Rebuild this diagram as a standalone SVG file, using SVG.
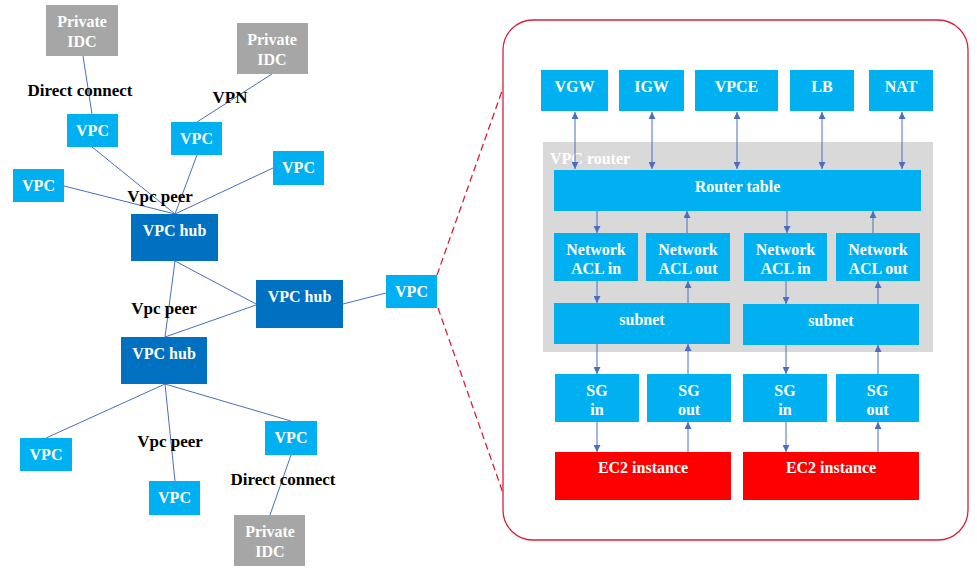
<svg xmlns="http://www.w3.org/2000/svg" width="977" height="571" viewBox="0 0 977 571">
<style>
text{font-family:"Liberation Serif","Times New Roman",serif;font-weight:bold;font-size:16px;text-anchor:middle}
.w{fill:#fff}
.lbl{fill:#000;font-size:17px}
.vpc{fill:#00b0f0}
.hub{fill:#0070c0}
.idc{fill:#a6a6a6}
.ec2{fill:#ff0000}
.ln{stroke:#4a6fbe;stroke-width:1;fill:none}
.ar{stroke:#4a6fbe;stroke-width:1;fill:none;marker-end:url(#ah)}
.ar2{stroke:#4a6fbe;stroke-width:1;fill:none;marker-end:url(#ah);marker-start:url(#ah)}
.red{stroke:#d8203a;stroke-width:1.3;fill:none}
</style>
<defs>
<marker id="ah" viewBox="0 0 10 10" refX="10" refY="5" markerWidth="7" markerHeight="7" markerUnits="userSpaceOnUse" orient="auto-start-reverse">
<path d="M0,0 L10,5 L0,10 z" fill="#4a6fbe"/>
</marker>
</defs>
<rect width="977" height="571" fill="#fff"/>

<g id="vpc-detail"><rect class="red" x="503" y="20" width="465" height="520" rx="30" ry="30"/></g>

<g id="vpc-router"><rect fill="#d9d9d9" x="543" y="142" width="390" height="210"/><text class="w" x="550" y="164" style="text-anchor:start">VPC router</text></g>

<g id="connectors">
<line class="ln" x1="83" y1="56" x2="92" y2="114"/>
<line class="ln" x1="272" y1="74" x2="197" y2="122"/>
<line class="ln" x1="92" y1="147" x2="175" y2="214"/>
<line class="ln" x1="197" y1="155" x2="175" y2="214"/>
<line class="ln" x1="273" y1="168" x2="175" y2="214"/>
<line class="ln" x1="64" y1="186" x2="175" y2="214"/>
<line class="ln" x1="175" y1="261" x2="165" y2="337"/>
<line class="ln" x1="175" y1="261" x2="256" y2="304"/>
<line class="ln" x1="256" y1="305" x2="165" y2="337"/>
<line class="ln" x1="343" y1="304" x2="386" y2="293"/>
<line class="ln" x1="165" y1="384" x2="46" y2="438"/>
<line class="ln" x1="165" y1="384" x2="175" y2="481"/>
<line class="ln" x1="165" y1="384" x2="291" y2="421"/>
<line class="ln" x1="291" y1="455" x2="270" y2="515"/>
<line class="red" stroke-dasharray="7,4" x1="437" y1="275" x2="502" y2="91"/>
<line class="red" stroke-dasharray="7,4" x1="438" y1="308" x2="503" y2="493"/>
<line class="ar2" x1="575" y1="112" x2="575" y2="169"/>
<line class="ar2" x1="652" y1="112" x2="652" y2="169"/>
<line class="ar2" x1="737" y1="112" x2="737" y2="169"/>
<line class="ar2" x1="822" y1="112" x2="822" y2="169"/>
<line class="ar2" x1="902" y1="112" x2="902" y2="169"/>
<line class="ar" x1="597" y1="211" x2="597" y2="233"/>
<line class="ar" x1="687" y1="233" x2="687" y2="211"/>
<line class="ar" x1="787" y1="211" x2="787" y2="233"/>
<line class="ar" x1="873" y1="233" x2="873" y2="211"/>
<line class="ar" x1="597" y1="281" x2="597" y2="303"/>
<line class="ar" x1="688" y1="303" x2="688" y2="281"/>
<line class="ar" x1="786" y1="281" x2="786" y2="304"/>
<line class="ar" x1="878" y1="304" x2="878" y2="281"/>
<line class="ar" x1="597" y1="344" x2="597" y2="374"/>
<line class="ar" x1="688" y1="374" x2="688" y2="344"/>
<line class="ar" x1="786" y1="345" x2="786" y2="374"/>
<line class="ar" x1="878" y1="374" x2="878" y2="345"/>
<line class="ar" x1="597" y1="422" x2="597" y2="452"/>
<line class="ar" x1="688" y1="452" x2="688" y2="422"/>
<line class="ar" x1="786" y1="422" x2="786" y2="452"/>
<line class="ar" x1="878" y1="452" x2="878" y2="422"/>
</g>

<g id="labels">
<text class="lbl" x="80" y="96">Direct connect</text>
<text class="lbl" x="230" y="103">VPN</text>
<text class="lbl" x="160" y="202">Vpc peer</text>
<text class="lbl" x="164" y="314">Vpc peer</text>
<text class="lbl" x="170" y="447">Vpc peer</text>
<text class="lbl" x="283" y="485">Direct connect</text>
</g>

<g id="idc1"><rect class="idc" x="46" y="5" width="72" height="51"/><text class="w" x="82" y="27">Private</text><text class="w" x="82" y="47">IDC</text></g>
<g id="idc2"><rect class="idc" x="237" y="23" width="71" height="51"/><text class="w" x="272" y="45">Private</text><text class="w" x="272" y="65">IDC</text></g>
<g id="idc3"><rect class="idc" x="234" y="515" width="71" height="51"/><text class="w" x="270" y="537">Private</text><text class="w" x="270" y="557">IDC</text></g>

<g id="vpc1"><rect class="vpc" x="67" y="114" width="51" height="33"/><text class="w" x="92.5" y="136">VPC</text></g>
<g id="vpc2"><rect class="vpc" x="171" y="122" width="51" height="33"/><text class="w" x="196.5" y="144">VPC</text></g>
<g id="vpc3"><rect class="vpc" x="273" y="151" width="51" height="34"/><text class="w" x="298.5" y="173">VPC</text></g>
<g id="vpc4"><rect class="vpc" x="13" y="169" width="51" height="33"/><text class="w" x="38.5" y="191">VPC</text></g>
<g id="vpc5"><rect class="vpc" x="386" y="275" width="51" height="33"/><text class="w" x="411.5" y="297">VPC</text></g>
<g id="vpc6"><rect class="vpc" x="20" y="438" width="52" height="33"/><text class="w" x="46" y="460">VPC</text></g>
<g id="vpc7"><rect class="vpc" x="149" y="481" width="51" height="34"/><text class="w" x="174.5" y="503">VPC</text></g>
<g id="vpc8"><rect class="vpc" x="265" y="421" width="52" height="34"/><text class="w" x="291" y="443">VPC</text></g>

<g id="hub1"><rect class="hub" x="131" y="214" width="87" height="47"/><text class="w" x="174.5" y="236">VPC hub</text></g>
<g id="hub2"><rect class="hub" x="256" y="280" width="87" height="48"/><text class="w" x="299.5" y="302">VPC hub</text></g>
<g id="hub3"><rect class="hub" x="121" y="337" width="86" height="47"/><text class="w" x="164" y="359">VPC hub</text></g>

<g id="vgw"><rect class="vpc" x="541" y="70" width="67" height="41"/><text class="w" x="574.5" y="92">VGW</text></g>
<g id="igw"><rect class="vpc" x="619" y="70" width="65" height="41"/><text class="w" x="651.5" y="92">IGW</text></g>
<g id="vpce"><rect class="vpc" x="695" y="70" width="83" height="41"/><text class="w" x="736.5" y="92">VPCE</text></g>
<g id="lb"><rect class="vpc" x="790" y="70" width="64" height="41"/><text class="w" x="822" y="92">LB</text></g>
<g id="nat"><rect class="vpc" x="869" y="70" width="64" height="41"/><text class="w" x="901" y="92">NAT</text></g>

<g id="router-table"><rect class="vpc" x="554" y="170" width="367" height="41"/><text class="w" x="737.5" y="192">Router table</text></g>

<g id="acl-in-1"><rect class="vpc" x="554" y="233" width="84" height="48"/><text class="w" x="596" y="255">Network</text><text class="w" x="596" y="274">ACL in</text></g>
<g id="acl-out-1"><rect class="vpc" x="646" y="233" width="84" height="48"/><text class="w" x="688" y="255">Network</text><text class="w" x="688" y="274">ACL out</text></g>
<g id="acl-in-2"><rect class="vpc" x="744" y="233" width="83" height="48"/><text class="w" x="785.5" y="255">Network</text><text class="w" x="785.5" y="274">ACL in</text></g>
<g id="acl-out-2"><rect class="vpc" x="836" y="233" width="84" height="48"/><text class="w" x="878" y="255">Network</text><text class="w" x="878" y="274">ACL out</text></g>

<g id="subnet-1"><rect class="vpc" x="554" y="303" width="176" height="41"/><text class="w" x="642" y="325">subnet</text></g>
<g id="subnet-2"><rect class="vpc" x="743" y="304" width="176" height="41"/><text class="w" x="831" y="326">subnet</text></g>

<g id="sg-in-1"><rect class="vpc" x="555" y="374" width="84" height="48"/><text class="w" x="597" y="396">SG</text><text class="w" x="597" y="415">in</text></g>
<g id="sg-out-1"><rect class="vpc" x="647" y="374" width="84" height="48"/><text class="w" x="689" y="396">SG</text><text class="w" x="689" y="415">out</text></g>
<g id="sg-in-2"><rect class="vpc" x="743" y="374" width="84" height="48"/><text class="w" x="785" y="396">SG</text><text class="w" x="785" y="415">in</text></g>
<g id="sg-out-2"><rect class="vpc" x="836" y="374" width="83" height="48"/><text class="w" x="877.5" y="396">SG</text><text class="w" x="877.5" y="415">out</text></g>

<g id="ec2-1"><rect class="ec2" x="555" y="452" width="176" height="48"/><text class="w" x="643" y="473">EC2 instance</text></g>
<g id="ec2-2"><rect class="ec2" x="743" y="452" width="176" height="48"/><text class="w" x="831" y="473">EC2 instance</text></g>
</svg>
